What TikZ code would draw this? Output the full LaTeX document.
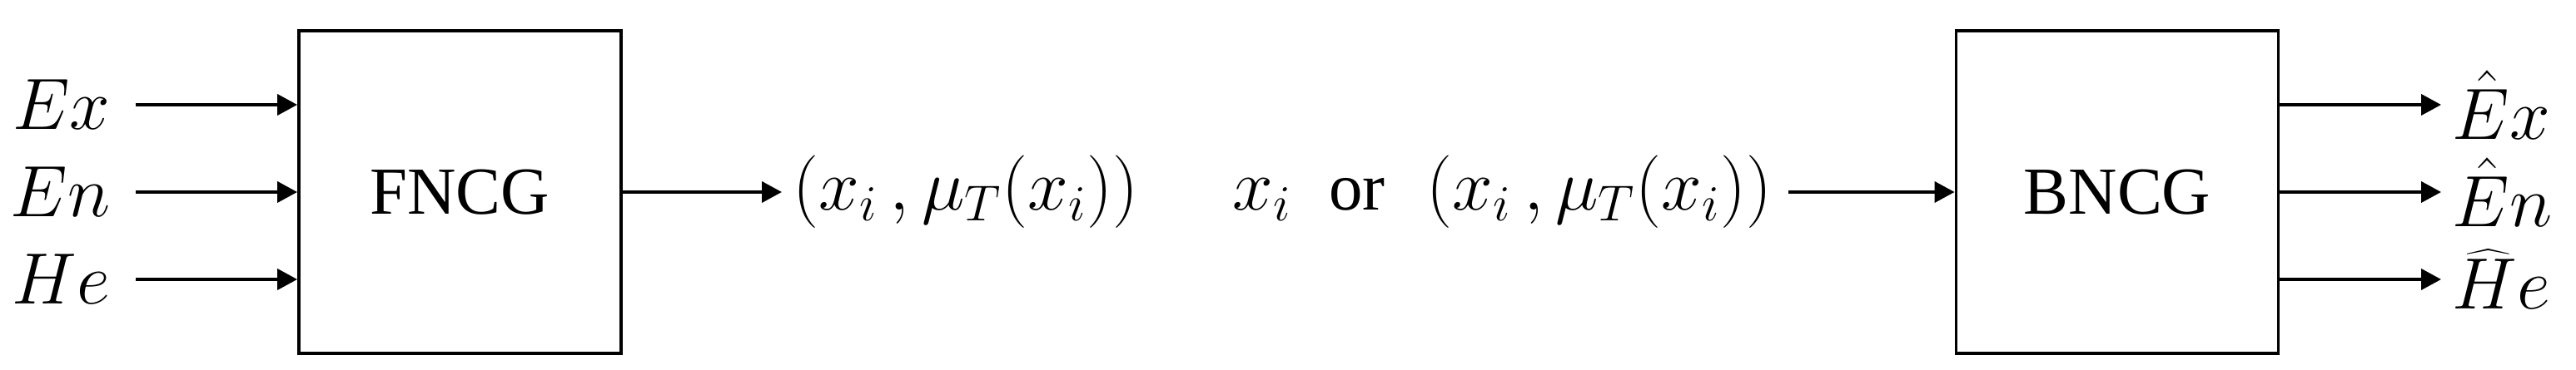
\documentclass[tikz,border=0pt]{standalone}
\usepackage{fontspec}
\setmainfont{Liberation Serif}
\usetikzlibrary{arrows.meta}
\begin{document}
\begin{tikzpicture}[line width=1.1pt, font=\fontsize{23}{27}\selectfont, >={Triangle[length=0.24cm,width=0.25cm]}]
	\useasboundingbox (0,0) rectangle (30.94,4.45);
	\node (FNCG) at ( 5.525, 2.14)	[draw, minimum width=3.87cm, minimum height=3.88cm]	{FNCG};
	\node (BNCG) at (25.43, 2.14)	[draw, minimum width=3.87cm, minimum height=3.88cm]	{BNCG};
	\node (Ex) at (1.46, 3.19)	[anchor=east]	{$Ex$};
	\node (En) at (1.46, 2.14)	[anchor=east]	{$En$};
	\node (He) at (1.46, 1.09)	[anchor=east]	{$He$};
	\node (Exh) at (29.32, 3.19)	[anchor=west]	{$\hat{E}x$};
	\node (Enh) at (29.32, 2.14)	[anchor=west]	{$\hat{E}n$};
	\node (Heh) at (29.32, 1.09)	[anchor=west]	{$\widehat{H}e$};
	\node (T1) at (9.39, 2.14)	[anchor=west]	{$\bigl(x_i\,,\mu_T\bigl(x_i\bigr)\bigr)$};
	\node (T2) at (21.42, 2.14)	[anchor=east]	{$x_i$\hspace{0.45cm}or\hspace{0.5cm}$\bigl(x_i\,,\mu_T\bigl(x_i\bigr)\bigr)$};
	\draw[->, shorten <=0.17cm] (Ex) -- (Ex -| FNCG.west);
	\draw[->, shorten <=0.17cm] (En) -- (FNCG);
	\draw[->, shorten <=0.17cm] (He) -- (He -| FNCG.west);
	\draw[->] (FNCG) -- (T1);
	\draw[->, shorten <=0.06cm] (T2) -- (BNCG);
	\draw[->] (Exh -| BNCG.east) -- (Exh);
	\draw[->] (BNCG) -- (Enh);
	\draw[->] (Heh -| BNCG.east) -- (Heh);
\end{tikzpicture}
\end{document}
